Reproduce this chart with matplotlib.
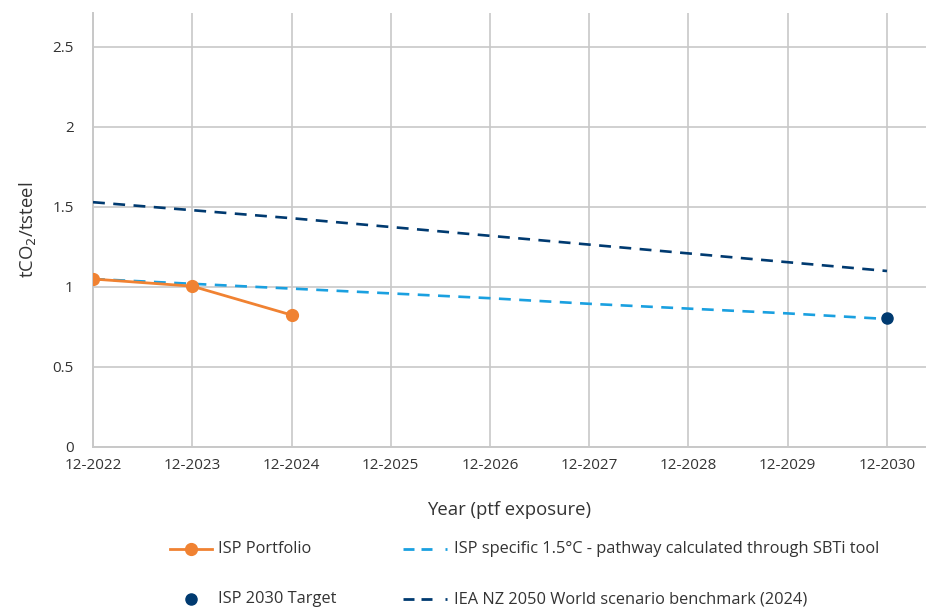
import matplotlib
matplotlib.use("Agg")
import matplotlib.pyplot as plt
from matplotlib.lines import Line2D

plt.rcParams['font.family'] = ['Open Sans', 'DejaVu Sans']

years = ["12-2022", "12-2023", "12-2024", "12-2025", "12-2026",
         "12-2027", "12-2028", "12-2029", "12-2030"]
portfolio = [1.05, 1.005, 0.825]
sbti_pathway = [1.05, 1.02, 0.99, 0.96, 0.93, 0.895, 0.865, 0.835, 0.80]
iea_benchmark = [1.53, 1.48, 1.43, 1.375, 1.32, 1.265, 1.21, 1.155, 1.10]
target_2030 = [0.805]

ORANGE = "#F08232"
NAVY = "#003A70"
LIGHT_BLUE = "#1AA0E0"
GRID = "#C8C8C8"
TEXT = "#333333"

fig = plt.figure(figsize=(9.26, 6.08), dpi=100)
ax = fig.add_axes([93 / 926, 1 - 447 / 608, 1 - 93 / 926, (447 - 13) / 608])

x = list(range(len(years)))
ax.plot(x, iea_benchmark, color=NAVY, lw=1.9, dashes=(4.5, 3.2), zorder=3)
ax.plot(x, sbti_pathway, color=LIGHT_BLUE, lw=1.9, dashes=(4.5, 3.2), zorder=3)
ax.plot(x[:len(portfolio)], portfolio, color=ORANGE, lw=2.0, marker="o",
        ms=8.5, zorder=4)
ax.plot([x[-1]], target_2030, color=NAVY, lw=0, marker="o", ms=8, zorder=5)

ax.set_xlim(0, (926 - 93) / 99.25)
ax.set_ylim(0, (447 - 13) / 160)
ax.set_xticks(x)
ax.set_xticklabels(years)
ax.set_yticks([0, 0.5, 1, 1.5, 2, 2.5])
ax.set_yticklabels(["0", "0.5", "1", "1.5", "2", "2.5"])
ax.grid(True, color=GRID, lw=1.2)
ax.set_axisbelow(True)
for side in ("top", "right"):
    ax.spines[side].set_visible(False)
for side in ("left", "bottom"):
    ax.spines[side].set_color(GRID)
    ax.spines[side].set_linewidth(1.4)
ax.tick_params(length=0, labelsize=11, colors=TEXT, pad=8)
ax.tick_params(axis="y", pad=14)

ax.set_ylabel("tCO$_2$/tsteel", fontsize=13.3, color=TEXT, labelpad=10)
ax.set_xlabel("Year (ptf exposure)", fontsize=13.3, color=TEXT, labelpad=20)

# Legend drawn in figure coordinates
def fy(py):
    return 1 - py / 608

def fx(px):
    return px / 926

legend_items = [
    (170, 549, dict(color=ORANGE, lw=2.0), "marker", "ISP Portfolio"),
    (403, 549, dict(color=LIGHT_BLUE, lw=2.0), "dash", "ISP specific 1.5°C - pathway calculated through SBTi tool"),
    (170, 599, None, "dot", "ISP 2030 Target"),
    (403, 599, dict(color=NAVY, lw=2.0), "dash", "IEA NZ 2050 World scenario benchmark (2024)"),
]
for px, py, style, kind, label in legend_items:
    if kind == "marker":
        fig.add_artist(Line2D([fx(px), fx(px + 42)], [fy(py), fy(py)], **style))
        fig.add_artist(Line2D([fx(px + 21)], [fy(py)], marker="o", ms=8.5,
                              color=ORANGE, lw=0))
        tx = px + 48
    elif kind == "dot":
        fig.add_artist(Line2D([fx(px + 21)], [fy(py)], marker="o", ms=8,
                              color=NAVY, lw=0))
        tx = px + 48
    else:
        for a, b in [(0, 11), (18, 29), (42, 44)]:
            fig.add_artist(Line2D([fx(px + a), fx(px + b)], [fy(py), fy(py)],
                                  solid_capstyle="butt", **style))
        tx = px + 51
    fig.text(fx(tx), fy(py), label, fontsize=11.8, color=TEXT, va="center", ha="left")

fig.savefig("out.png", dpi=100)
